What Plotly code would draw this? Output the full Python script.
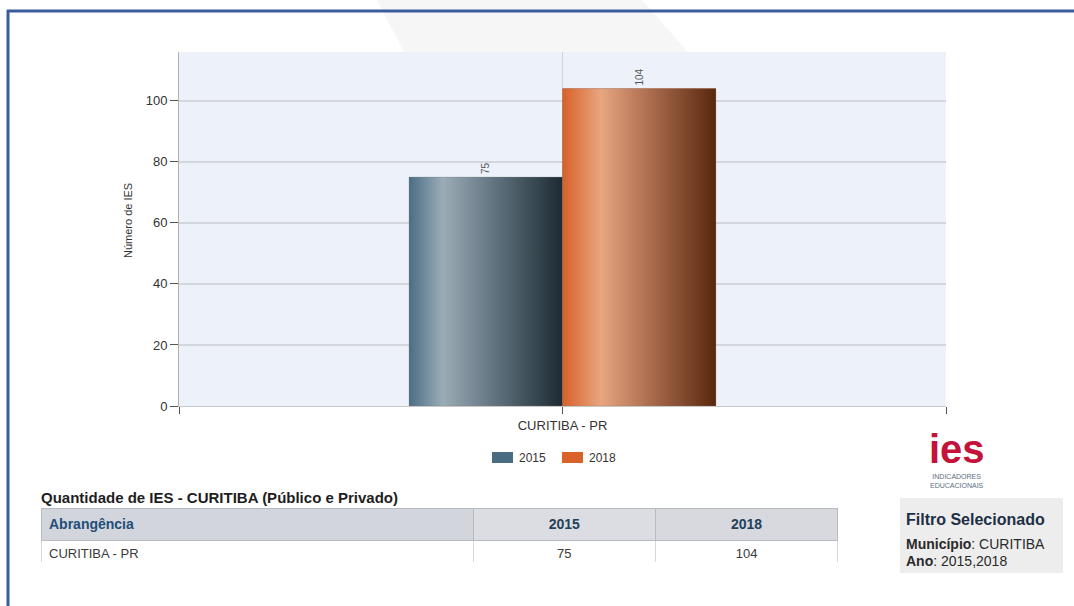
import plotly.graph_objects as go

# --- data ---------------------------------------------------------------
categories = ["CURITIBA - PR"]
years = ["2015", "2018"]
ies_counts = [75, 104]
y_ticks = [0, 20, 40, 60, 80, 100]

table_title = "Quantidade de IES - CURITIBA (Público e Privado)"
table_header = ["Abrangência"] + years
table_row_label = categories

# --- styling --------------------------------------------------------------
W, H = 1074, 606
base_colors = ["#4a6c82", "#d9612a"]
gradients = [
    [[0, "#4b6e84"], [0.22, "#9bacb7"], [0.6, "#5a6c77"], [1, "#1c2a32"]],
    [[0, "#d8602a"], [0.25, "#e8a680"], [0.6, "#a6674a"], [1, "#58280e"]],
]
bar_width = 0.2
FONT = "Liberation Sans, Arial, sans-serif"


def px_x(p):
    return p / W


def px_y(p):
    return 1 - p / H


fig = go.Figure()

# bars with their value label above each one
for i, (yr, val) in enumerate(zip(years, ies_counts)):
    offset = -bar_width + i * bar_width
    fig.add_trace(go.Bar(
        x=[0], y=[val], width=bar_width, offset=offset,
        name=yr, marker=dict(color=base_colors[i], line=dict(width=0)),
        text=[str(val)], textposition="outside", textangle=-90,
        textfont=dict(family=FONT, size=10, color="#555555"),
        cliponaxis=False, hoverinfo="skip", showlegend=False,
    ))

# horizontal shading over each bar
for i, val in enumerate(ies_counts):
    x0 = -bar_width + i * bar_width
    x1 = x0 + bar_width
    fig.add_trace(go.Scatter(
        x=[x0, x1, x1, x0, x0], y=[0, 0, val, val, 0],
        mode="lines", fill="toself", line=dict(width=0.6, color="rgba(120,120,120,0.5)"),
        fillgradient=dict(type="horizontal", colorscale=gradients[i]),
        showlegend=False, hoverinfo="skip",
    ))

# summary table below the chart
fig.add_trace(go.Table(
    domain=dict(x=[px_x(41), px_x(839)], y=[px_y(563), px_y(508)]),
    columnwidth=[433, 182, 183],
    header=dict(
        values=[f"<b>{h}</b>" for h in table_header],
        align=["left", "center", "center"],
        fill_color=["#d3d5dc", "#dcdde2", "#d8d9df"],
        line_color="#b8bac2",
        font=dict(family=FONT, size=14, color=["#1f4f7a", "#23405c", "#23405c"]),
        height=29,
    ),
    cells=dict(
        values=[table_row_label] + [[v] for v in ies_counts],
        align=["left", "center", "center"],
        fill_color="white",
        line_color="#d8d8d8",
        font=dict(family=FONT, size=13, color="#3a3a3a"),
        height=25,
    ),
))

shapes = [
    # faint backdrop wedge
    dict(type="path", xref="paper", yref="paper", layer="below",
         path=(f"M {px_x(377)} {px_y(0)} L {px_x(642)} {px_y(0)} "
               f"L {px_x(688)} {px_y(52)} L {px_x(404)} {px_y(52)} Z"),
         fillcolor="#f6f6f6", line=dict(width=0)),
    # frame lines
    dict(type="line", xref="paper", yref="paper",
         x0=px_x(7), x1=1, y0=px_y(11), y1=px_y(11),
         line=dict(color="#3b5c9c", width=3)),
    dict(type="line", xref="paper", yref="paper",
         x0=px_x(8), x1=px_x(8), y0=px_y(10), y1=0,
         line=dict(color="#3b5c9c", width=3)),
    # filter panel
    dict(type="rect", xref="paper", yref="paper", layer="below",
         x0=px_x(900), x1=px_x(1063), y0=px_y(573), y1=px_y(498),
         fillcolor="#ededed", line=dict(width=0)),
]

annotations = [
    dict(text=f"<b>{table_title}</b>", x=px_x(39), y=px_y(497),
         font=dict(family=FONT, size=15, color="#1e1e1e")),
    dict(text="Número de IES", x=px_x(128), y=px_y(221), xanchor="center",
         textangle=-90, font=dict(family=FONT, size=11, color="#333333")),
    dict(text="<b>ies</b>", x=px_x(957), y=px_y(449), xanchor="center",
         font=dict(family=FONT, size=40, color="#c4123a")),
    dict(text="INDICADORES<br>EDUCACIONAIS", x=px_x(957), y=px_y(481),
         xanchor="center", font=dict(family=FONT, size=7, color="#5d6e82")),
    dict(text="<b>Filtro Selecionado</b>", x=px_x(904), y=px_y(519),
         font=dict(family=FONT, size=16, color="#1d2f45")),
    dict(text="<b>Município</b>: CURITIBA", x=px_x(904), y=px_y(544),
         font=dict(family=FONT, size=14, color="#2a2a2a")),
    dict(text="<b>Ano</b>: 2015,2018", x=px_x(904), y=px_y(561),
         font=dict(family=FONT, size=14, color="#2a2a2a")),
]

# legend: colour swatch + year label under the axis
legend_x = [492, 562]
for i, yr in enumerate(years):
    lx = legend_x[i]
    shapes.append(dict(type="rect", xref="paper", yref="paper",
                       x0=px_x(lx), x1=px_x(lx + 21),
                       y0=px_y(463), y1=px_y(452),
                       fillcolor=base_colors[i], line=dict(width=0)))
    annotations.append(dict(text=yr, x=px_x(lx + 25), y=px_y(458),
                            font=dict(family=FONT, size=12, color="#333333")))

for a in annotations:
    a.setdefault("xref", "paper")
    a.setdefault("yref", "paper")
    a.setdefault("xanchor", "left")
    a.setdefault("yanchor", "middle")
    a.setdefault("showarrow", False)

fig.update_layout(
    width=W, height=H,
    margin=dict(l=0, r=0, t=0, b=0, autoexpand=False),
    paper_bgcolor="white",
    plot_bgcolor="#edf2fa",
    barmode="overlay",
    font=dict(family=FONT, size=12, color="#333333"),
    showlegend=False,
    xaxis=dict(
        domain=[px_x(179), px_x(946)], range=[-0.5, 0.5],
        tickvals=[-0.5, 0, 0.5], ticktext=["", categories[0], ""],
        ticks="outside", ticklen=7, tickcolor="#555555",
        showline=True, linecolor="#c8c8c8", linewidth=1,
        showgrid=True, gridcolor="#d0d4db", gridwidth=1,
        zeroline=False, tickfont=dict(size=13, color="#333333"),
        fixedrange=True,
    ),
    yaxis=dict(
        domain=[px_y(406), px_y(52)], range=[0, 116],
        tickvals=y_ticks, ticks="outside", ticklen=8, tickcolor="#555555",
        showline=True, linecolor="#b0b0b0", linewidth=1,
        showgrid=True, gridcolor="#d3d6dc", gridwidth=1.5,
        zeroline=False, tickfont=dict(size=13, color="#333333"),
        fixedrange=True,
    ),
    shapes=shapes,
    annotations=annotations,
)

fig.write_html("out.html")
